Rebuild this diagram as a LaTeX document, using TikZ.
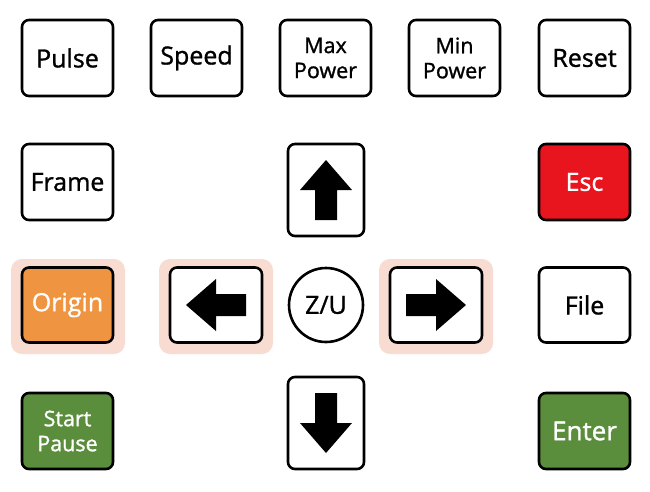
\documentclass[tikz,border=0pt]{standalone}
\usepackage{fontspec}
\setmainfont{Open Sans}
\newfontfamily\keyfont{Open Sans}[FakeBold=1.2]
\begin{document}
\begin{tikzpicture}[x=1pt,y=-1pt,
  key/.style={draw=black,line width=2.6pt,rounded corners=7pt,fill=white,align=center,inner sep=0pt,font=\keyfont\fontsize{25}{28}\selectfont},
  two/.style={font=\keyfont\fontsize{21.5}{25}\selectfont},
  halo/.style={fill=haloc,rounded corners=11pt,draw=none},
  arr/.style={fill=black,draw=none}]
\definecolor{haloc}{HTML}{F8DCD2}
\definecolor{escc}{HTML}{E8141E}
\definecolor{orgc}{HTML}{EF9440}
\definecolor{grnc}{HTML}{5B8E3C}
\useasboundingbox (0,0) rectangle (650,491);
\fill[white] (0,0) rectangle (650,491);
% halos
\path[halo] (11,259) rectangle (125,354);
\path[halo] (159,259) rectangle (273,354);
\path[halo] (379,259) rectangle (493,354);
% row 1
\node[key,minimum width=91pt,minimum height=76pt] (pulse) at (67.5,58) {Pulse};
\node[key,minimum width=91pt,minimum height=76pt] (speed) at (196.5,58) {Speed};
\node[key,two,minimum width=91pt,minimum height=76pt] (maxp) at (325.5,58) {Max\\Power};
\node[key,two,minimum width=91pt,minimum height=76pt] (minp) at (454.5,58) {Min\\Power};
\node[key,minimum width=91pt,minimum height=76pt] (reset) at (584.5,58) {Reset};
% row 2
\node[key,minimum width=91pt,minimum height=76pt] (frame) at (67.5,182) {Frame};
\node[key,minimum width=76pt,minimum height=92pt] (up) at (326,190) {};
\node[key,minimum width=91pt,minimum height=76pt,fill=escc,text=white] (esc) at (584.5,182) {Esc};
% row 3
\node[key,minimum width=91pt,minimum height=75pt,fill=orgc,text=white] (origin) at (67.5,305) {Origin};
\node[key,minimum width=92pt,minimum height=75pt] (left) at (216,305) {};
\node[draw=black,line width=2.6pt,circle,minimum size=74pt,fill=white,inner sep=0pt,font=\keyfont\fontsize{25}{28}\selectfont] (zu) at (326,305) {Z/U};
\node[key,minimum width=92pt,minimum height=75pt] (right) at (436,305) {};
\node[key,minimum width=91pt,minimum height=75pt] (file) at (584.5,305) {File};
% row 4
\node[key,two,minimum width=91pt,minimum height=76pt,fill=grnc,text=white] (start) at (67.5,431) {Start\\Pause};
\node[key,minimum width=76pt,minimum height=92pt] (down) at (326,423) {};
\node[key,minimum width=91pt,minimum height=76pt,fill=grnc,text=white,font=\keyfont\fontsize{26}{29}\selectfont] (enter) at (584.5,431) {Enter};
% arrows
\fill[arr] (up.center) ++(0,-30) -- ++(26,30) -- ++(-15,0) -- ++(0,30) -- ++(-22,0) -- ++(0,-30) -- ++(-15,0) -- cycle;
\fill[arr] (down.center) ++(0,30) -- ++(26,-30) -- ++(-15,0) -- ++(0,-30) -- ++(-22,0) -- ++(0,30) -- ++(-15,0) -- cycle;
\fill[arr] (left.center) ++(-30,0) -- ++(30,-26) -- ++(0,15) -- ++(30,0) -- ++(0,22) -- ++(-30,0) -- ++(0,15) -- cycle;
\fill[arr] (right.center) ++(30,0) -- ++(-30,-26) -- ++(0,15) -- ++(-30,0) -- ++(0,22) -- ++(30,0) -- ++(0,15) -- cycle;
\end{tikzpicture}
\end{document}
